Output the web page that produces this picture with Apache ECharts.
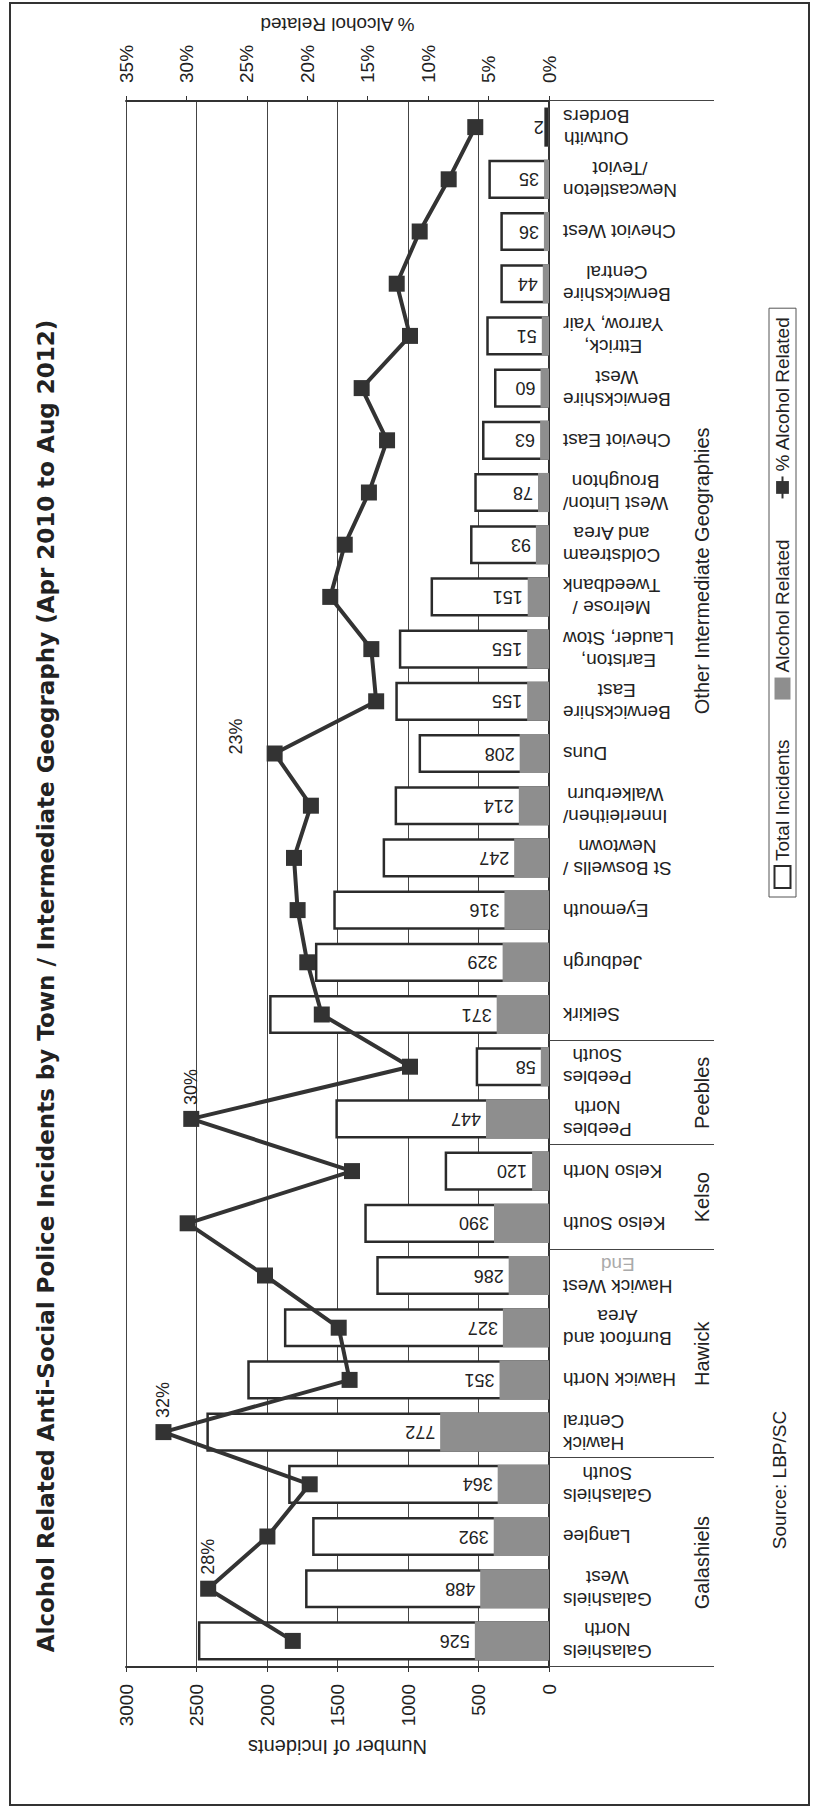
<!DOCTYPE html>
<html>
<head>
<meta charset="utf-8">
<title>Alcohol Related Anti-Social Police Incidents by Town</title>
<script src="https://cdn.jsdelivr.net/npm/echarts@6/dist/echarts.min.js"></script>
<style>
  html, body { margin: 0; padding: 0; background: #fff; overflow: hidden; }
  body { width: 814px; height: 1808px; position: relative; }
  /* the printed page frame */
  #frame { position: absolute; left: 9px; top: 2px; width: 801px; height: 1804px;
           border: 2px solid #333; box-sizing: border-box; }
  /* the chart was scanned on its side, so draw it landscape and turn it */
  #main { position: absolute; width: 1808px; height: 814px; left: -497px; top: 497px;
          transform: rotate(-90deg); }
</style>
</head>
<body>
<div id="frame"></div>
<div id="main"></div>
<script>
  // towns / intermediate geographies, left to right on the landscape chart
  var towns = [
    'Galashiels\nNorth', 'Galashiels\nWest', 'Langlee', 'Galashiels\nSouth',
    'Hawick\nCentral', 'Hawick North', 'Burnfoot and\nArea', 'Hawick West\nEnd',
    'Kelso South', 'Kelso North', 'Peebles\nNorth', 'Peebles\nSouth',
    'Selkirk', 'Jedburgh', 'Eyemouth', 'St Boswells /\nNewtown',
    'Innerleithen/\nWalkerburn', 'Duns', 'Berwickshire\nEast', 'Earlston,\nLauder, Stow',
    'Melrose /\nTweedbank', 'Coldstream\nand Area', 'West Linton/\nBroughton', 'Cheviot East',
    'Berwickshire\nWest', 'Ettrick,\nYarrow, Yair', 'Berwickshire\nCentral', 'Cheviot West',
    'Newcastleton\n/Teviot', 'Outwith\nBorders'
  ];
  var totalIncidents = [
    2490, 1730, 1680, 1850, 2430, 2140, 1880, 1225, 1310, 740,
    1515, 520, 1985, 1660, 1530, 1180, 1095, 925, 1090, 1065,
    840, 560, 530, 475, 390, 445, 345, 345, 430, 33
  ];
  var alcoholRelated = [
    526, 488, 392, 364, 772, 351, 327, 286, 390, 120,
    447, 58, 371, 329, 316, 247, 214, 208, 155, 155,
    151, 93, 78, 63, 60, 51, 44, 36, 35, 2
  ];
  var pctAlcohol = [
    21.2, 28.2, 23.3, 19.8, 31.9, 16.5, 17.4, 23.5, 29.9, 16.3,
    29.6, 11.5, 18.8, 20.0, 20.8, 21.1, 19.7, 22.7, 14.3, 14.7,
    18.1, 16.9, 14.9, 13.4, 15.5, 11.5, 12.6, 10.7, 8.3, 6.1
  ];
  // points that carry a % label
  var labelledTowns = ['Galashiels\nWest', 'Hawick\nCentral', 'Peebles\nNorth', 'Duns'];
  // town groups under the axis
  var groupNames = ['Galashiels', 'Hawick', 'Kelso', 'Peebles', 'Other Intermediate Geographies'];
  var groupSizes = [4, 4, 2, 2, 18];

  var groupEdges = [0];
  var groupCentres = [];
  groupSizes.forEach(function (n, i) {
    groupCentres.push(groupEdges[i] + n / 2);
    groupEdges.push(groupEdges[i] + n);
  });

  var font = "'Liberation Sans', Arial, sans-serif";

  var pctData = pctAlcohol.map(function (v, i) {
    if (labelledTowns.indexOf(towns[i]) < 0) return v;
    var lab = { show: true, position: 'right', distance: 6 };
    if (towns[i] === 'Duns') lab = { show: true, position: 'top', distance: 22, offset: [17, 0] };
    return { value: v, label: lab };
  });

  var myChart = echarts.init(document.getElementById('main'), null, { renderer: 'svg' });
  var option = {
    animation: false,
    textStyle: { fontFamily: font },
    title: [
      {
        text: 'Alcohol Related Anti-Social Police Incidents by Town / Intermediate Geography (Apr 2010 to Aug 2012)',
        left: 822, top: 34, textAlign: 'center', padding: 0,
        textStyle: { fontFamily: "'DejaVu Sans', 'Liberation Sans', sans-serif", fontSize: 23, fontWeight: 'bold', color: '#222' }
      },
      {
        text: 'Source: LBP/SC',
        left: 328, top: 770, textAlign: 'center', padding: 0,
        textStyle: { fontFamily: font, fontSize: 19, fontWeight: 'normal', color: '#222' }
      }
    ],
    legend: {
      left: 911, top: 769,
      padding: [4, 8],
      itemGap: 40, itemWidth: 22, itemHeight: 16,
      borderColor: '#555', borderWidth: 1,
      textStyle: { fontFamily: font, fontSize: 19, color: '#222' },
      data: [
        { name: 'Total Incidents', icon: 'rect' },
        { name: 'Alcohol Related', icon: 'rect' },
        { name: '% Alcohol Related' }
      ]
    },
    grid: { left: 141, right: 101, top: 126, bottom: 265 },
    xAxis: [
      {
        type: 'category', data: towns, position: 'bottom',
        axisLine: { lineStyle: { color: '#333', width: 2 } },
        axisTick: { interval: 0, length: 123, lineStyle: { color: '#444', width: 1 } },
        axisLabel: {
          interval: 0, rotate: 90, margin: 14, color: '#222',
          formatter: function (value) {
            return value.split('\n').map(function (line) {
              return (line === 'End' ? '{g|' : '{c|') + line + '}';
            }).join('\n');
          },
          rich: {
            c: { align: 'center', fontSize: 19, lineHeight: 22, color: '#222', fontFamily: font },
            g: { align: 'center', fontSize: 19, lineHeight: 22, color: '#aaa', fontFamily: font }
          }
        }
      },
      {
        type: 'value', min: 0, max: towns.length, position: 'bottom',
        axisLine: { show: false },
        splitLine: { show: false },
        axisTick: { show: true, customValues: groupEdges, length: 165, lineStyle: { color: '#444', width: 1 } },
        axisLabel: {
          customValues: groupCentres, margin: 143, fontSize: 20, color: '#222', fontFamily: font,
          formatter: function (v) { return groupNames[groupCentres.indexOf(v)]; }
        }
      }
    ],
    yAxis: [
      {
        type: 'value', min: 0, max: 3000, interval: 500, position: 'left',
        name: 'Number of Incidents', nameLocation: 'middle', nameRotate: 90, nameGap: 68,
        nameTextStyle: { fontSize: 20, color: '#222' },
        axisLine: { show: true, lineStyle: { color: '#333', width: 2 } },
        axisTick: { show: true, length: 5, lineStyle: { color: '#333' } },
        axisLabel: { margin: 17, fontSize: 19, color: '#222', formatter: function (v) { return String(v); } },
        splitLine: { lineStyle: { color: '#444', width: 1 } }
      },
      {
        type: 'value', min: 0, max: 35, interval: 5, position: 'right',
        name: '% Alcohol Related', nameLocation: 'middle', nameRotate: 90, nameGap: 50,
        nameTextStyle: { fontSize: 19, color: '#222' },
        axisLine: { show: true, lineStyle: { color: '#333', width: 2 } },
        axisTick: { show: true, length: 5, lineStyle: { color: '#333' } },
        axisLabel: { margin: 18, fontSize: 19, color: '#222', formatter: '{value}%' },
        splitLine: { show: false }
      }
    ],
    series: [
      {
        name: 'Total Incidents', type: 'bar', data: totalIncidents,
        barWidth: '75%', barGap: '-100%',
        itemStyle: { color: '#fff', borderColor: '#2b2b2b', borderWidth: 2.5 }
      },
      {
        name: 'Alcohol Related', type: 'bar', data: alcoholRelated,
        barWidth: '75%', barGap: '-100%',
        itemStyle: { color: '#8e8e8e' },
        label: {
          show: true, position: 'top', rotate: 90, align: 'left', verticalAlign: 'middle',
          distance: 5, fontSize: 18, color: '#222'
        }
      },
      {
        name: '% Alcohol Related', type: 'line', yAxisIndex: 1, data: pctData,
        symbol: 'rect', symbolSize: 16, z: 5,
        itemStyle: { color: '#333' },
        lineStyle: { color: '#333', width: 4 },
        label: {
          fontSize: 18, color: '#222',
          formatter: function (p) { return Math.round(p.value) + '%'; }
        }
      }
    ]
  };
  myChart.setOption(option);
</script>
</body>
</html>
